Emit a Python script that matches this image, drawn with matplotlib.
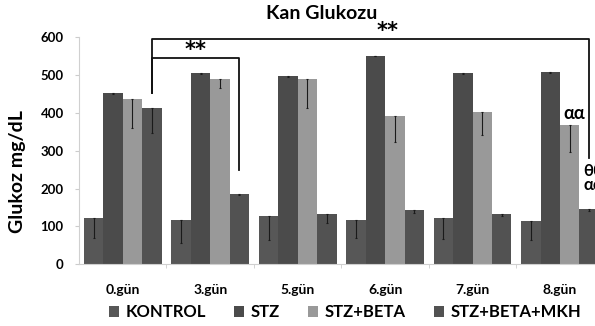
import matplotlib
matplotlib.use("Agg")
import matplotlib.pyplot as plt
from matplotlib.patches import Patch
import numpy as np

plt.rcParams['font.family'] = ['Lato', 'DejaVu Sans']
plt.rcParams['font.weight'] = 'bold'

days = ['0.gün', '3.gün', '5.gün', '6.gün', '7.gün', '8.gün']
groups = ['KONTROL', 'STZ', 'STZ+BETA', 'STZ+BETA+MKH']
kontrol = [122, 118, 128, 117, 122, 114]
stz = [453, 505, 498, 552, 505, 509]
stz_beta = [437, 489, 489, 393, 402, 368]
stz_beta_mkh = [414, 185, 132, 143, 132, 147]
kontrol_err = [53, 62, 64, 48, 55, 50]
stz_err = [2, 2, 2, 2, 2, 2]
stz_beta_err = [78, 24, 77, 69, 60, 70]
stz_beta_mkh_err = [66, 3, 22, 8, 5, 6]

values = [kontrol, stz, stz_beta, stz_beta_mkh]
errors = [kontrol_err, stz_err, stz_beta_err, stz_beta_mkh_err]
colors = ['#575757', '#4b4b4b', '#999999', '#525252']

fig = plt.figure(figsize=(5.95, 3.26), dpi=100)
ax = fig.add_axes([0.1328, 0.19, 0.882, 0.695])

x = np.arange(len(days))
w = 0.222
for i in range(4):
    pos = x + (i - 1.5) * w
    ax.bar(pos, values[i], w, color=colors[i], edgecolor='none', zorder=2)
    ax.errorbar(pos, values[i], yerr=[errors[i], [0] * len(days)], fmt='none',
                ecolor='#1a1a1a', elinewidth=0.8, capsize=1, capthick=0.8, zorder=3)

ax.set_xlim(-0.5, 5.5)
ax.set_ylim(0, 600)
ax.set_yticks([0, 100, 200, 300, 400, 500, 600])
ax.set_xticks(x)
ax.set_xticklabels(days)
ax.set_xticks(np.arange(0.5, 5.5, 1), minor=True)
ax.tick_params(axis='y', labelsize=9.5, length=3, color='#cccccc', pad=8)
ax.tick_params(axis='x', which='major', labelsize=10, length=0, pad=14)
ax.tick_params(axis='x', which='minor', length=3, color='#cccccc')
for s in ['top', 'right']:
    ax.spines[s].set_visible(False)
ax.spines['left'].set_color('#d0d0d0')
ax.spines['bottom'].set_color('#d0d0d0')

fig.text(0.54, 0.958, 'Kan Glukozu', ha='center', va='center', fontsize=14, weight='bold')
fig.text(0.029, 0.474, 'Glukoz mg/dL', rotation=90, ha='center', va='center',
         fontsize=14, weight='bold')

# significance brackets
x0 = 0 + 1.5 * w
x3 = 1 + 1.5 * w
x8 = 5 + 1.5 * w
ax.plot([x0, x0, x8, x8], [454, 597, 597, 281], color='#111111', lw=1.3,
        clip_on=False, zorder=4)
ax.plot([x0, x0, x3, x3], [454, 547, 547, 249], color='#111111', lw=1.3,
        clip_on=False, zorder=4)
ax.text(0.83, 540, '**', ha='center', va='bottom', fontsize=15, weight='bold',
        family='DejaVu Sans')
ax.text(3.03, 590, '**', ha='center', va='bottom', fontsize=15, weight='bold',
        family='DejaVu Sans', clip_on=False)
ax.text(5.16, 399, 'αα', ha='center', va='center', fontsize=13, weight='bold')
ax.text(5.27, 246, 'θθ', ha='left', va='center', fontsize=12, weight='bold')
ax.text(5.27, 210, 'αα', ha='left', va='center', fontsize=12, weight='bold')

handles = [Patch(facecolor=c, edgecolor='none') for c in colors]
fig.legend(handles, groups, loc='center', bbox_to_anchor=(0.58, 0.042), ncol=4,
           frameon=False, handlelength=0.6, handleheight=0.6,
           handletextpad=0.4, columnspacing=1.7, prop={'weight': 'bold', 'size': 12})

fig.savefig('out.png', dpi=100)
